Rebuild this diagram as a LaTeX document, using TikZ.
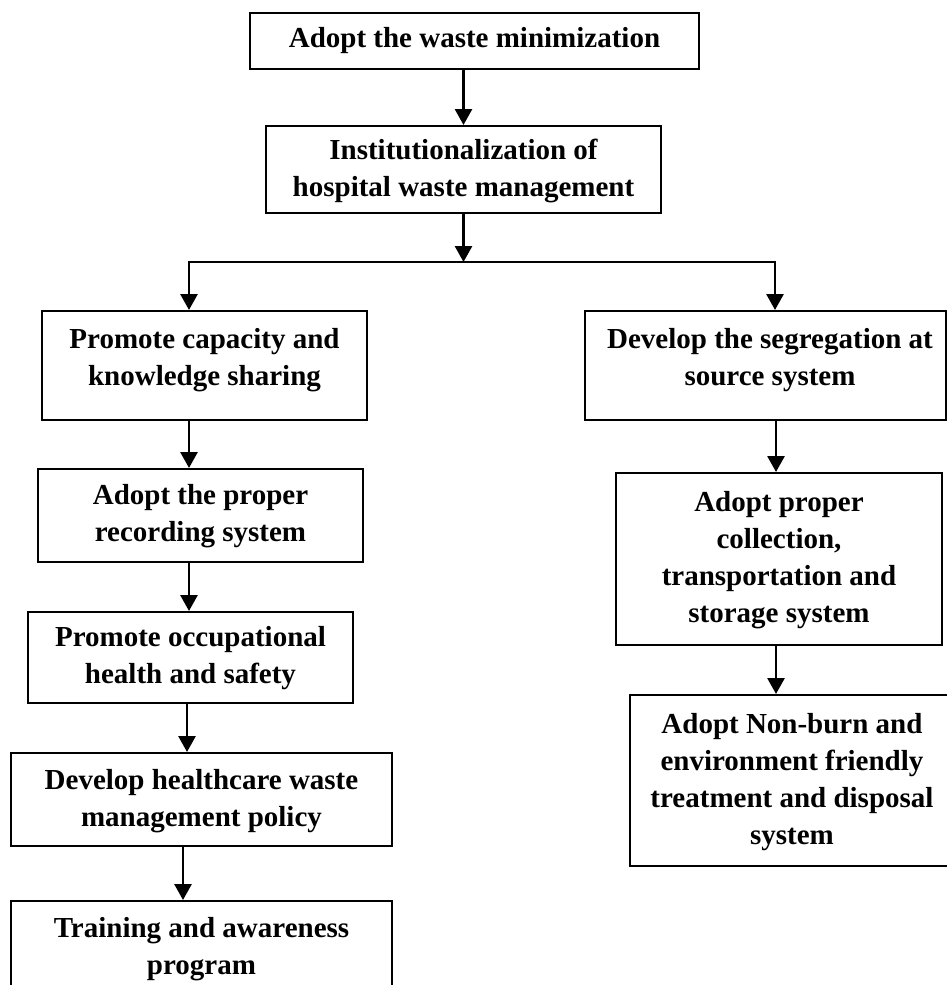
\documentclass[tikz,border=0pt]{standalone}
\usepackage{fontspec}
\setmainfont{Liberation Serif}
\usetikzlibrary{arrows.meta}
\begin{document}
\begin{tikzpicture}[x=0.5pt,y=-0.5pt,
  box/.style={draw, line width=1pt, inner sep=0pt},
  sz/.style 2 args={minimum width=#1*0.5pt, minimum height=#2*0.5pt},
  txt/.style={align=center, inner sep=0pt, font=\fontsize{14.5}{18.5}\selectfont\bfseries},
  arr/.style={line width=1.4pt, -{Triangle[width=8.5pt,length=8pt]}},
]
\useasboundingbox (0,0) rectangle (947,985);
\clip (0,0) rectangle (947,985);

% top of the chain
\node[box, sz={449}{56}] (adopt) at (474.5,41) {};
\node[txt] (adoptT) at (474.5,41) {Adopt the waste minimization};
\node[box, sz={395}{87}] (inst) at (463.5,169.5) {};
\node[txt] (instT) at (463.5,171) {Institutionalization of\\hospital waste management};

% left column
\node[box, sz={325}{109}] (capac) at (204.5,365.5) {};
\node[txt] (capacT) at (204.5,360) {Promote capacity and\\knowledge sharing};
\node[box, sz={325}{93}] (record) at (200.5,515.5) {};
\node[txt] (recordT) at (200.5,516) {Adopt the proper\\recording system};
\node[box, sz={325}{91}] (occup) at (190.5,657.5) {};
\node[txt] (occupT) at (190.5,658) {Promote occupational\\health and safety};
\node[box, sz={381}{93}] (policy) at (201.5,799.5) {};
\node[txt] (policyT) at (201.5,801) {Develop healthcare waste\\management policy};
\node[box, sz={381}{93}] (train) at (201.5,947.5) {};
\node[txt] (trainT) at (201.5,949) {Training and awareness\\program};

% right column
\node[box, sz={361}{109}] (segr) at (765.5,365.5) {};
\node[txt] (segrT) at (770,360) {Develop the segregation at\\source system};
\node[box, sz={326}{172}] (collect) at (779,559) {};
\node[txt] (collectT) at (779,560) {Adopt proper\\collection,\\transportation and\\storage system};
\node[box, sz={324}{171}] (nonburn) at (792,780.5) {};
\node[txt] (nonburnT) at (792,782) {Adopt Non-burn and\\environment friendly\\treatment and disposal\\system};

% branching points
\coordinate (split) at (463.5,262);
\coordinate (lb) at (189,262);
\coordinate (rb) at (775,262);

% connectors
\draw[arr] (adopt.south -| inst.north) -- (inst.north);
\draw[arr] (inst.south) -- (split);
\draw[arr] (split) -- (lb) -- (lb |- capac.north);
\draw[arr] (split) -- (rb) -- (rb |- segr.north);

\draw[arr] (capac.south -| lb) -- (record.north -| lb);
\draw[arr] (record.south -| lb) -- (occup.north -| lb);
\coordinate (l3) at (187,0);
\draw[arr] (occup.south -| l3) -- (policy.north -| l3);
\coordinate (l4) at (183,0);
\draw[arr] (policy.south -| l4) -- (train.north -| l4);

\coordinate (r2) at (776,0);
\draw[arr] (segr.south -| r2) -- (collect.north -| r2);
\draw[arr] (collect.south -| r2) -- (nonburn.north -| r2);
\end{tikzpicture}
\end{document}
